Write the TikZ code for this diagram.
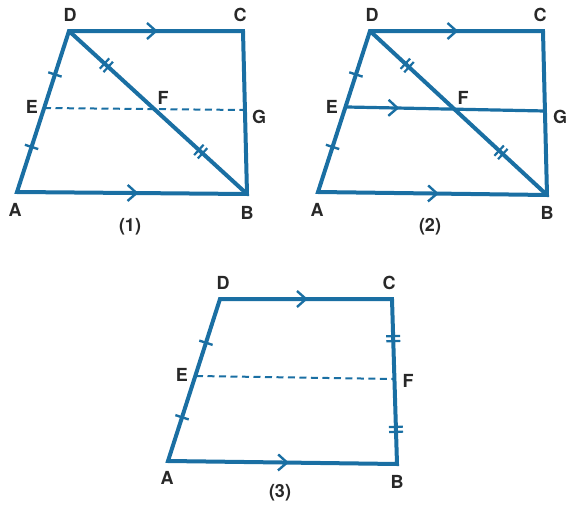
\documentclass[tikz,border=0pt]{standalone}
\usepackage{fontspec}
\setmainfont{TeX Gyre Heros}
\usetikzlibrary{decorations.markings}
\definecolor{geo}{RGB}{26,111,163}
\definecolor{lbl}{RGB}{40,40,40}
\begin{document}
\begin{tikzpicture}[x=1pt,y=-1pt,
  edge/.style={draw=geo,line width=4pt,line join=miter},
  midline/.style={draw=geo,line width=2pt,dash pattern=on 7pt off 4.5pt},
  solidmid/.style={draw=geo,line width=3.2pt},
  chev/.style={decoration={markings,mark=at position #1 with {\draw[geo,line width=2.4pt,line join=miter] (-9,-8)--(0,0)--(-9,8);}},decorate},
  tick/.style={decoration={markings,mark=at position #1 with {\draw[geo,line width=2.4pt] (0,-7)--(0,7);}},decorate},
  dtick/.style={decoration={markings,mark=at position #1 with {\draw[geo,line width=2.2pt] (-2.5,-7)--(-2.5,7) (2.5,-7)--(2.5,7);}},decorate},
  lab/.style={text=lbl,font=\fontsize{18}{21}\selectfont\bfseries,inner sep=0pt}
]
\useasboundingbox (0,0) rectangle (576,506);

% ---------- Figure (1) ----------
\coordinate (A1) at (17,192);
\coordinate (B1) at (247,194);
\coordinate (C1) at (243,31);
\coordinate (D1) at (69,31);
\coordinate (E1) at (44,108);
\coordinate (G1) at (245,110);
\coordinate (F1) at (intersection of E1--G1 and D1--B1);
\draw[midline] (E1) -- (G1);
\draw[edge] (A1) -- (B1) -- (C1) -- (D1) -- cycle;
\draw[edge] (D1) -- (B1);
\path[chev=0.5] (D1) -- (C1);
\path[chev=0.52] (A1) -- (B1);
\path[tick=0.28] (A1) -- (D1);
\path[tick=0.73] (A1) -- (D1);
\path[dtick=0.21] (D1) -- (B1);
\path[dtick=0.74] (D1) -- (B1);
\node[lab] (lD1) at (70,15) {D};
\node[lab] (lC1) at (240,15) {C};
\node[lab] (lE1) at (32,107) {E};
\node[lab] (lF1) at (163,98) {F};
\node[lab] (lG1) at (259,117) {G};
\node[lab] (lA1) at (15,210) {A};
\node[lab] (lB1) at (247,213) {B};
\node[lab] (n1) at (130,227) {(1)};

% ---------- Figure (2) ----------
\coordinate (A2) at (318,192);
\coordinate (B2) at (547,195);
\coordinate (C2) at (543,31);
\coordinate (D2) at (370,31);
\coordinate (E2) at (347,107);
\coordinate (G2) at (545,111);
\coordinate (F2) at (intersection of E2--G2 and D2--B2);
\draw[solidmid] (E2) -- (G2);
\draw[edge] (A2) -- (B2) -- (C2) -- (D2) -- cycle;
\draw[edge] (D2) -- (B2);
\path[chev=0.5] (D2) -- (C2);
\path[chev=0.52] (A2) -- (B2);
\path[chev=0.47] (E2) -- (F2);
\path[tick=0.28] (A2) -- (D2);
\path[tick=0.73] (A2) -- (D2);
\path[dtick=0.21] (D2) -- (B2);
\path[dtick=0.74] (D2) -- (B2);
\node[lab] (lD2) at (372,15) {D};
\node[lab] (lC2) at (540,15) {C};
\node[lab] (lE2) at (332,107) {E};
\node[lab] (lF2) at (463,98) {F};
\node[lab] (lG2) at (560,117) {G};
\node[lab] (lA2) at (317,210) {A};
\node[lab] (lB2) at (547,213) {B};
\node[lab] (n2) at (430,227) {(2)};

% ---------- Figure (3) ----------
\coordinate (A3) at (168,461);
\coordinate (B3) at (397,464);
\coordinate (C3) at (392,299);
\coordinate (D3) at (220,299);
\coordinate (E3) at (196,376);
\coordinate (F3) at (394,379);
\draw[midline] (E3) -- (F3);
\draw[edge] (A3) -- (B3) -- (C3) -- (D3) -- cycle;
\path[chev=0.5] (D3) -- (C3);
\path[chev=0.52] (A3) -- (B3);
\path[tick=0.27] (A3) -- (D3);
\path[tick=0.73] (A3) -- (D3);
\path[dtick=0.24] (C3) -- (B3);
\path[dtick=0.79] (C3) -- (B3);
\node[lab] (lD3) at (223,283) {D};
\node[lab] (lC3) at (389,283) {C};
\node[lab] (lE3) at (182,375) {E};
\node[lab] (lF3) at (408,381) {F};
\node[lab] (lA3) at (167,478) {A};
\node[lab] (lB3) at (397,482) {B};
\node[lab] (n3) at (280,493) {(3)};
\end{tikzpicture}
\end{document}
